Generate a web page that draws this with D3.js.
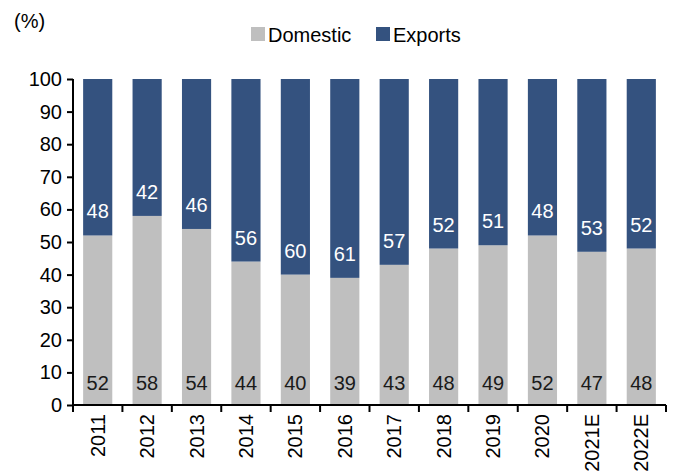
<!DOCTYPE html>
<html>
<head>
<meta charset="utf-8">
<script src="https://cdn.jsdelivr.net/npm/d3@7"></script>
<style>
  html, body { margin: 0; padding: 0; background: #fff; }
  svg { display: block; font-family: Arial, "Liberation Sans", sans-serif; }
</style>
</head>
<body>
<div id="chart"></div>
<script>
const years = ['2011', '2012', '2013', '2014', '2015', '2016', '2017', '2018', '2019', '2020', '2021E', '2022E'];
const domestic = [52, 58, 54, 44, 40, 39, 43, 48, 49, 52, 47, 48];
const exports_ = [48, 42, 46, 56, 60, 61, 57, 52, 51, 48, 53, 52];
const yTicks = [0, 10, 20, 30, 40, 50, 60, 70, 80, 90, 100];

const colors = { Domestic: '#bfbfbf', Exports: '#34527f' };

const W = 677, H = 473;
const margin = { top: 79, right: 11, bottom: 68, left: 73 };
const iw = W - margin.left - margin.right;
const ih = H - margin.top - margin.bottom;

const svg = d3.select('#chart').append('svg')
  .attr('width', W).attr('height', H);

const g = svg.append('g').attr('transform', `translate(${margin.left},${margin.top})`);

const x = d3.scaleBand().domain(years).range([0, iw]).paddingInner(0.41).paddingOuter(0.205);
const y = d3.scaleLinear().domain([0, 100]).range([ih, 0]);

const rows = years.map((yr, i) => ({ year: yr, Domestic: domestic[i], Exports: exports_[i] }));
const stack = d3.stack().keys(['Domestic', 'Exports'])(rows);

// bars
const layers = g.selectAll('.layer').data(stack).join('g')
  .attr('fill', d => colors[d.key]);
layers.selectAll('rect').data(d => d).join('rect')
  .attr('x', d => x(d.data.year))
  .attr('width', x.bandwidth())
  .attr('y', d => y(d[1]))
  .attr('height', d => y(d[0]) - y(d[1]));

// value labels
const fs = '20px';
g.selectAll('.lbl-dom').data(rows).join('text')
  .attr('x', d => x(d.year) + x.bandwidth() / 2)
  .attr('y', ih - 15)
  .attr('text-anchor', 'middle')
  .attr('font-size', fs)
  .attr('fill', '#1a1a1a')
  .text(d => d.Domestic);
g.selectAll('.lbl-exp').data(rows).join('text')
  .attr('x', d => x(d.year) + x.bandwidth() / 2)
  .attr('y', d => y(d.Domestic) - 17)
  .attr('text-anchor', 'middle')
  .attr('font-size', fs)
  .attr('fill', '#fff')
  .text(d => d.Exports);

// y axis
const yAxis = g.append('g')
  .call(d3.axisLeft(y).tickValues(yTicks).tickSize(6).tickPadding(5));
yAxis.selectAll('text').attr('font-size', fs).attr('fill', '#000');
yAxis.selectAll('line, path').attr('stroke', '#000').attr('stroke-width', 2);
yAxis.select('.domain').attr('d', `M0,${ih}V0`);

// x axis, ticks between categories
const xAxis = g.append('g').attr('transform', `translate(0,${ih})`);
xAxis.append('line').attr('x1', 0).attr('x2', iw).attr('stroke', '#000').attr('stroke-width', 2);
const step = x.step();
xAxis.selectAll('.tk').data(d3.range(years.length + 1)).join('line')
  .attr('x1', i => i * step).attr('x2', i => i * step)
  .attr('y1', 0).attr('y2', 7)
  .attr('stroke', '#000').attr('stroke-width', 2);
xAxis.selectAll('.xl').data(years).join('text')
  .attr('transform', d => `translate(${x(d) + x.bandwidth() / 2 + 7},9) rotate(-90)`)
  .attr('text-anchor', 'end')
  .attr('font-size', fs)
  .attr('fill', '#000')
  .text(d => d);

// unit label
svg.append('text').attr('x', 14).attr('y', 28).attr('font-size', fs).attr('fill', '#000').text('(%)');

// legend
const legend = svg.append('g').attr('transform', 'translate(251,27)');
const items = [{ key: 'Domestic', x: 0 }, { key: 'Exports', x: 125 }];
items.forEach(it => {
  legend.append('rect').attr('x', it.x).attr('y', 0).attr('width', 14).attr('height', 14)
    .attr('fill', colors[it.key]);
  legend.append('text').attr('x', it.x + 17).attr('y', 14.5)
    .attr('font-size', fs).attr('fill', '#000').text(it.key);
});
</script>
</body>
</html>
